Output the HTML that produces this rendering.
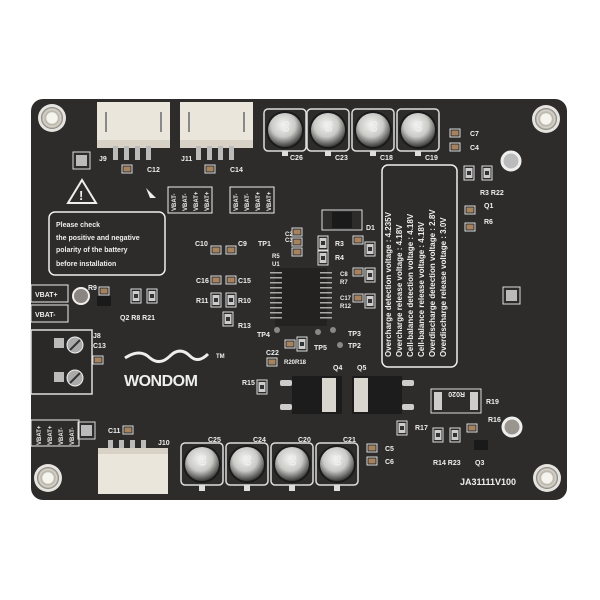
<!DOCTYPE html>
<html><head><style>
html,body{margin:0;padding:0;background:#fff;width:600px;height:600px;overflow:hidden}
svg{display:block}
text{font-family:"Liberation Sans",sans-serif;font-weight:bold;fill:#eee}
</style></head><body>
<svg width="600" height="600" viewBox="0 0 600 600">
<defs>
<radialGradient id="cap" cx="45%" cy="35%" r="65%"><stop offset="0" stop-color="#f4f4f2"/><stop offset="0.55" stop-color="#c9c9c6"/><stop offset="0.85" stop-color="#6a6a68"/><stop offset="1" stop-color="#3a3a38"/></radialGradient>
<radialGradient id="hole" cx="50%" cy="50%" r="50%"><stop offset="0.45" stop-color="#f2f0ea"/><stop offset="0.6" stop-color="#b8b2a4"/><stop offset="0.8" stop-color="#d9d6cf"/><stop offset="1" stop-color="#7a7670"/></radialGradient>
<g id="holeg"><circle r="14" fill="#e6e4df"/><circle r="11" fill="url(#hole)"/><circle r="5.5" fill="#f6f4ef"/></g>
<g id="capg"><rect x="-21" y="-21" width="42" height="42" rx="4" fill="none" stroke="#ddd" stroke-width="1.5"/><circle r="19" fill="#1a1a1a"/><circle r="17" fill="url(#cap)"/><text x="-2" y="4" font-size="10" fill="#666" transform="rotate(-90)">68</text></g>
<g id="smd"><rect x="-5" y="-4" width="10" height="8" fill="none" stroke="#ddd" stroke-width="1"/><rect x="-3.5" y="-2.5" width="7" height="5" fill="#a7825e"/></g>
<g id="res"><rect x="-5" y="-7" width="10" height="14" fill="none" stroke="#ddd" stroke-width="1"/><rect x="-3.5" y="-5" width="7" height="10" fill="#ccc"/><rect x="-2" y="-2" width="4" height="4" fill="#333"/></g>
</defs>
<rect x="31" y="99" width="536" height="401" rx="12" fill="#2d2c2b"/>
<use href="#holeg" x="52" y="118"/>
<use href="#holeg" x="546" y="119"/>
<use href="#holeg" x="48" y="478"/>
<use href="#holeg" x="547" y="478"/>
<g>
<rect x="97" y="102" width="73" height="40" fill="#ebe6dc"/><rect x="97" y="140" width="73" height="8" fill="#d8d2c6"/>
<rect x="105" y="112" width="2" height="20" fill="#888"/><rect x="160" y="112" width="2" height="20" fill="#888"/>
<rect x="113" y="146" width="5" height="14" fill="#bbb"/><rect x="124" y="146" width="5" height="14" fill="#bbb"/><rect x="135" y="146" width="5" height="14" fill="#bbb"/><rect x="146" y="146" width="5" height="14" fill="#bbb"/>
<rect x="180" y="102" width="73" height="40" fill="#ebe6dc"/><rect x="180" y="140" width="73" height="8" fill="#d8d2c6"/>
<rect x="188" y="112" width="2" height="20" fill="#888"/><rect x="243" y="112" width="2" height="20" fill="#888"/>
<rect x="196" y="146" width="5" height="14" fill="#bbb"/><rect x="207" y="146" width="5" height="14" fill="#bbb"/><rect x="218" y="146" width="5" height="14" fill="#bbb"/><rect x="229" y="146" width="5" height="14" fill="#bbb"/>
</g>
<text x="99" y="161" font-size="7">J9</text><text x="181" y="161" font-size="7">J11</text>
<use href="#smd" x="127" y="169"/><text x="147" y="172" font-size="7">C12</text>
<use href="#smd" x="210" y="169"/><text x="230" y="172" font-size="7">C14</text>
<rect x="73" y="152" width="17" height="17" fill="none" stroke="#ddd"/><rect x="76" y="155" width="11" height="11" fill="#bbb"/>
<polygon points="82,180 68,203 96,203" fill="none" stroke="#eee" stroke-width="2"/><text x="79" y="200" font-size="13">!</text>
<polygon points="146,188 156,198 150,198" fill="#eee"/>
<rect x="49" y="212" width="116" height="63" rx="6" fill="none" stroke="#eee" stroke-width="1.5"/>
<text x="56" y="227" font-size="7">Please check</text>
<text x="56" y="240" font-size="7">the positive and negative</text>
<text x="56" y="252" font-size="7">polarity of the battery</text>
<text x="56" y="266" font-size="7">before installation</text>
<g font-size="6">
<rect x="168" y="187" width="44" height="26" fill="none" stroke="#eee"/>
<text transform="translate(176,211) rotate(-90)" font-size="6">VBAT-</text><text transform="translate(187,211) rotate(-90)" font-size="6">VBAT-</text><text transform="translate(198,211) rotate(-90)" font-size="6">VBAT+</text><text transform="translate(209,211) rotate(-90)" font-size="6">VBAT+</text>
<rect x="230" y="187" width="44" height="26" fill="none" stroke="#eee"/>
<text transform="translate(238,211) rotate(-90)" font-size="6">VBAT-</text><text transform="translate(249,211) rotate(-90)" font-size="6">VBAT-</text><text transform="translate(260,211) rotate(-90)" font-size="6">VBAT+</text><text transform="translate(271,211) rotate(-90)" font-size="6">VBAT+</text>
</g>
<use href="#capg" x="285" y="130"/><use href="#capg" x="328" y="130"/><use href="#capg" x="373" y="130"/><use href="#capg" x="418" y="130"/>
<g fill="#ddd"><rect x="282" y="151" width="6" height="5"/><rect x="325" y="151" width="6" height="5"/><rect x="370" y="151" width="6" height="5"/><rect x="415" y="151" width="6" height="5"/></g>
<text x="290" y="160" font-size="7">C26</text><text x="335" y="160" font-size="7">C23</text><text x="380" y="160" font-size="7">C18</text><text x="425" y="160" font-size="7">C19</text>
<use href="#smd" x="455" y="133"/><use href="#smd" x="455" y="147"/><text x="470" y="136" font-size="7">C7</text><text x="470" y="150" font-size="7">C4</text>
<circle cx="511" cy="161" r="9" fill="#bbb" stroke="#eee" stroke-width="3"/>
<use href="#res" x="469" y="173"/><use href="#res" x="487" y="173"/><text x="480" y="195" font-size="7">R3 R22</text>
<use href="#smd" x="470" y="210"/><use href="#smd" x="470" y="227"/><text x="484" y="208" font-size="7">Q1</text><text x="484" y="224" font-size="7">R6</text>
<rect x="503" y="287" width="17" height="17" fill="none" stroke="#ddd"/><rect x="506" y="290" width="11" height="11" fill="#bbb"/>
<rect x="382" y="165" width="75" height="202" rx="6" fill="none" stroke="#eee" stroke-width="1.5"/>
<g font-size="8">
<text transform="translate(391,357) rotate(-90)">Overcharge detection voltage : 4.235V</text>
<text transform="translate(402,357) rotate(-90)">Overcharge release voltage : 4.18V</text>
<text transform="translate(413,357) rotate(-90)">Cell-balance detection voltage : 4.18V</text>
<text transform="translate(424,357) rotate(-90)">Cell-balance release voltage : 4.18V</text>
<text transform="translate(435,357) rotate(-90)">Overdischarge detection voltage : 2.8V</text>
<text transform="translate(446,357) rotate(-90)">Overdischarge release voltage : 3.0V</text>
</g>
<rect x="322" y="210" width="40" height="20" fill="none" stroke="#ddd"/><rect x="332" y="212" width="20" height="16" fill="#1a1a1a"/><text x="366" y="230" font-size="7">D1</text>
<use href="#smd" x="297" y="232"/><use href="#smd" x="297" y="242"/><use href="#smd" x="297" y="252"/>
<text x="285" y="236" font-size="6">C2</text><text x="285" y="242" font-size="6">C3</text><text x="272" y="258" font-size="6">R5</text><text x="272" y="266" font-size="6">U1</text>
<use href="#res" x="323" y="243"/><use href="#res" x="323" y="258"/><text x="335" y="246" font-size="7">R3</text><text x="335" y="260" font-size="7">R4</text>
<use href="#smd" x="358" y="240"/><use href="#smd" x="358" y="272"/><use href="#smd" x="358" y="298"/>
<use href="#res" x="370" y="249"/><use href="#res" x="370" y="275"/><use href="#res" x="370" y="301"/>
<text x="340" y="276" font-size="6">C8</text><text x="340" y="284" font-size="6">R7</text><text x="340" y="300" font-size="6">C17</text><text x="340" y="308" font-size="6">R12</text>
<rect x="275" y="268" width="52" height="58" fill="#232221"/>
<g fill="#aaa"><rect x="270" y="272" width="12" height="1.5"/><rect x="270" y="277" width="12" height="1.5"/><rect x="270" y="282" width="12" height="1.5"/><rect x="270" y="287" width="12" height="1.5"/><rect x="270" y="292" width="12" height="1.5"/><rect x="270" y="297" width="12" height="1.5"/><rect x="270" y="302" width="12" height="1.5"/><rect x="270" y="307" width="12" height="1.5"/><rect x="270" y="312" width="12" height="1.5"/><rect x="270" y="317" width="12" height="1.5"/>
<rect x="320" y="272" width="12" height="1.5"/><rect x="320" y="277" width="12" height="1.5"/><rect x="320" y="282" width="12" height="1.5"/><rect x="320" y="287" width="12" height="1.5"/><rect x="320" y="292" width="12" height="1.5"/><rect x="320" y="297" width="12" height="1.5"/><rect x="320" y="302" width="12" height="1.5"/><rect x="320" y="307" width="12" height="1.5"/><rect x="320" y="312" width="12" height="1.5"/><rect x="320" y="317" width="12" height="1.5"/></g>
<use href="#smd" x="216" y="250"/><use href="#smd" x="231" y="250"/><use href="#smd" x="216" y="280"/><use href="#smd" x="231" y="280"/>
<use href="#res" x="216" y="300"/><use href="#res" x="231" y="300"/><use href="#res" x="228" y="319"/>
<text x="195" y="246" font-size="7">C10</text><text x="238" y="246" font-size="7">C9</text><text x="196" y="283" font-size="7">C16</text><text x="238" y="283" font-size="7">C15</text>
<text x="196" y="303" font-size="7">R11</text><text x="238" y="303" font-size="7">R10</text><text x="238" y="328" font-size="7">R13</text>
<text x="258" y="246" font-size="7">TP1</text><text x="257" y="337" font-size="7">TP4</text>
<circle cx="277" cy="330" r="3" fill="#888"/><circle cx="318" cy="332" r="3" fill="#888"/><circle cx="333" cy="330" r="3" fill="#888"/><circle cx="340" cy="345" r="3" fill="#888"/>
<text x="348" y="336" font-size="7">TP3</text><text x="348" y="348" font-size="7">TP2</text><text x="314" y="350" font-size="7">TP5</text>
<use href="#smd" x="290" y="344"/><use href="#res" x="302" y="344"/><text x="284" y="364" font-size="6">R20R18</text>
<text x="266" y="355" font-size="7">C22</text><use href="#smd" x="272" y="362"/>
<rect x="31" y="285" width="37" height="17" fill="none" stroke="#eee"/><text x="35" y="297" font-size="7">VBAT+</text>
<rect x="31" y="305" width="37" height="17" fill="none" stroke="#eee"/><text x="35" y="317" font-size="7">VBAT-</text>
<circle cx="81" cy="296" r="8" fill="#8a8580" stroke="#eee" stroke-width="2"/>
<text x="88" y="290" font-size="7">R9</text><use href="#smd" x="104" y="291"/><rect x="97" y="296" width="14" height="10" fill="#1a1a1a"/>
<use href="#res" x="136" y="296"/><use href="#res" x="152" y="296"/><text x="120" y="320" font-size="7">Q2 R8 R21</text>
<rect x="31" y="330" width="61" height="64" fill="#2a2928" stroke="#ddd" stroke-width="1.5"/>
<rect x="54" y="338" width="10" height="10" fill="#bbb"/><rect x="54" y="372" width="10" height="10" fill="#bbb"/>
<circle cx="75" cy="345" r="8" fill="#aaa" stroke="#eee" stroke-width="1"/><line x1="70" y1="350" x2="80" y2="340" stroke="#333" stroke-width="2"/>
<circle cx="75" cy="378" r="8" fill="#aaa" stroke="#eee" stroke-width="1"/><line x1="70" y1="383" x2="80" y2="373" stroke="#333" stroke-width="2"/>
<text x="93" y="338" font-size="7">J8</text><text x="93" y="348" font-size="7">C13</text><use href="#smd" x="98" y="360"/>
<path d="M125 358 q15 -10 25 0 q10 8 20 -2 q10 -10 20 0 q8 8 18 -2" fill="none" stroke="#eee" stroke-width="3"/>
<text x="124" y="386" font-size="16" letter-spacing="-0.5">WONDOM</text>
<text x="216" y="358" font-size="6">TM</text>
<text x="333" y="370" font-size="7">Q4</text><text x="357" y="370" font-size="7">Q5</text>
<rect x="292" y="376" width="50" height="38" fill="#1c1c1c"/><rect x="322" y="378" width="14" height="34" fill="#d9d6d0"/>
<rect x="280" y="380" width="12" height="6" fill="#ccc" rx="2"/><rect x="280" y="404" width="12" height="6" fill="#ccc" rx="2"/>
<rect x="352" y="376" width="50" height="38" fill="#1c1c1c"/><rect x="354" y="378" width="14" height="34" fill="#d9d6d0"/>
<rect x="402" y="380" width="12" height="6" fill="#ccc" rx="2"/><rect x="402" y="404" width="12" height="6" fill="#ccc" rx="2"/>
<text x="242" y="385" font-size="7">R15</text><use href="#res" x="262" y="387"/>
<rect x="431" y="389" width="50" height="24" fill="none" stroke="#ddd"/><rect x="434" y="392" width="8" height="18" fill="#ccc"/><rect x="470" y="392" width="8" height="18" fill="#ccc"/>
<text transform="translate(465,392) rotate(180)" font-size="7">R020</text><text x="486" y="404" font-size="7">R19</text>
<use href="#res" x="402" y="428"/><text x="415" y="430" font-size="7">R17</text>
<use href="#res" x="438" y="435"/><use href="#res" x="455" y="435"/><text x="433" y="465" font-size="7">R14 R23</text>
<use href="#smd" x="472" y="428"/><text x="488" y="422" font-size="7">R16</text><rect x="474" y="440" width="14" height="10" fill="#1a1a1a"/><text x="475" y="465" font-size="7">Q3</text>
<circle cx="512" cy="427" r="9" fill="#9a958f" stroke="#eee" stroke-width="3"/>
<text x="460" y="485" font-size="9">JA31111V100</text>
<rect x="31" y="420" width="48" height="26" fill="none" stroke="#eee"/>
<text transform="translate(41,445) rotate(-90)" font-size="6">VBAT+</text><text transform="translate(52,445) rotate(-90)" font-size="6">VBAT+</text><text transform="translate(63,445) rotate(-90)" font-size="6">VBAT-</text><text transform="translate(74,445) rotate(-90)" font-size="6">VBAT-</text>
<rect x="78" y="422" width="17" height="17" fill="none" stroke="#ddd"/><rect x="81" y="425" width="11" height="11" fill="#bbb"/>
<text x="108" y="433" font-size="7">C11</text><use href="#smd" x="128" y="430"/>
<rect x="108" y="440" width="5" height="10" fill="#bbb"/><rect x="119" y="440" width="5" height="10" fill="#bbb"/><rect x="130" y="440" width="5" height="10" fill="#bbb"/><rect x="141" y="440" width="5" height="10" fill="#bbb"/>
<rect x="98" y="448" width="70" height="46" fill="#ebe6dc"/><rect x="98" y="448" width="70" height="6" fill="#d8d2c6"/>
<text x="158" y="445" font-size="7">J10</text>
<use href="#capg" x="202" y="464"/><use href="#capg" x="247" y="464"/><use href="#capg" x="292" y="464"/><use href="#capg" x="337" y="464"/>
<g fill="#ddd"><rect x="199" y="485" width="6" height="6"/><rect x="244" y="485" width="6" height="6"/><rect x="289" y="485" width="6" height="6"/><rect x="334" y="485" width="6" height="6"/></g>
<text x="208" y="442" font-size="7">C25</text><text x="253" y="442" font-size="7">C24</text><text x="298" y="442" font-size="7">C20</text><text x="343" y="442" font-size="7">C21</text>
<use href="#smd" x="372" y="448"/><use href="#smd" x="372" y="461"/><text x="385" y="451" font-size="7">C5</text><text x="385" y="464" font-size="7">C6</text>
</svg>
</body></html>
